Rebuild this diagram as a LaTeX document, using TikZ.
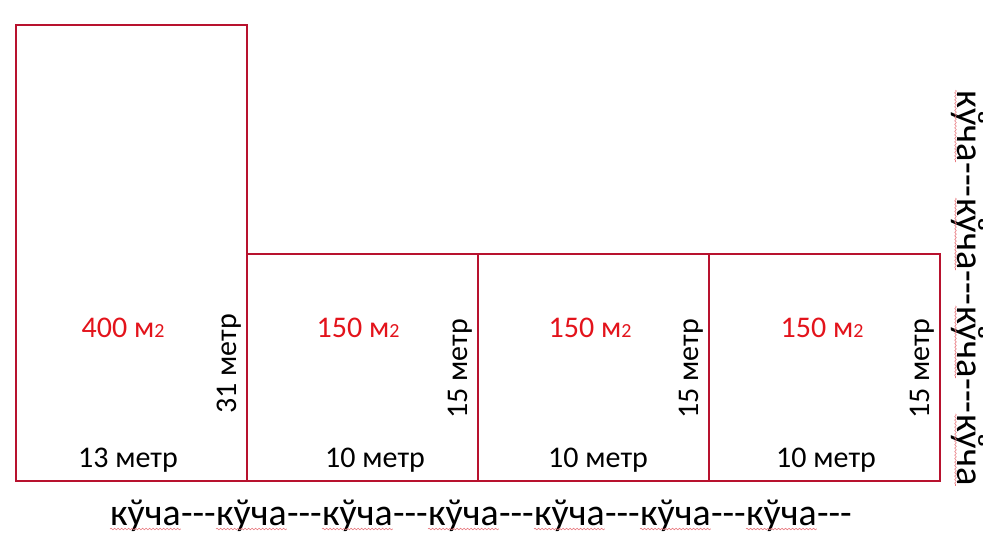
\documentclass[tikz,border=0pt]{standalone}
\usepackage{fontspec}
\setmainfont{Carlito}
\usetikzlibrary{calc,decorations.pathmorphing}
\definecolor{boxred}{HTML}{B8122E}
\definecolor{txtred}{HTML}{E3131B}
\definecolor{spellred}{HTML}{E87A80}
\begin{document}
\begin{tikzpicture}[x=1pt,y=-1pt,
  plot/.style={draw=boxred,line width=1.6pt},
  area/.style={text=txtred,font=\fontsize{30}{32}\selectfont,inner sep=0pt},
  dim/.style={text=black,font=\fontsize{30}{32}\selectfont,inner sep=0pt},
  street/.style={text=black,font=\fontsize{37.8}{40}\selectfont,inner sep=0pt,anchor=base west},
  vstreet/.style={street,font=\fontsize{38.5}{40}\selectfont,rotate=-90},
  wavy/.style={draw=spellred,line width=0.6pt,decorate,decoration={snake,segment length=3.5pt,amplitude=0.8pt}}]
\useasboundingbox (0,0) rectangle (1000,556);
\newcommand{\sqm}{м\raisebox{0pt}{\fontsize{20}{22}\selectfont 2}}
\newcommand{\dsh}{-{}-{}-}
% plots
\draw[plot] (16,25) rectangle (247,481);
\draw[plot] (247,254) rectangle (478,481);
\draw[plot] (478,254) rectangle (709,481);
\draw[plot] (709,254) rectangle (940,481);
% areas
\node[area] (a1) at (123,328) {400 \sqm};
\node[area] (a2) at (358,328) {150 \sqm};
\node[area] (a3) at (590,328) {150 \sqm};
\node[area] (a4) at (822,328) {150 \sqm};
% widths
\node[dim,anchor=base] (w1) at (128,467) {13 метр};
\node[dim,anchor=base] (w2) at (375,467) {10 метр};
\node[dim,anchor=base] (w3) at (598,467) {10 метр};
\node[dim,anchor=base] (w4) at (826,467) {10 метр};
% heights
\node[dim,anchor=base,rotate=90] (h1) at (236,364) {31 метр};
\node[dim,anchor=base,rotate=90] (h2) at (467,369) {15 метр};
\node[dim,anchor=base,rotate=90] (h3) at (698,369) {15 метр};
\node[dim,anchor=base,rotate=90] (h4) at (929,369) {15 метр};
% bottom street
\node[street] (b1) at (110,525) {кўча};
\node[street] (bd1) at (b1.base east) {\dsh};
\node[street] (b2) at (bd1.base east) {кўча};
\node[street] (bd2) at (b2.base east) {\dsh};
\node[street] (b3) at (bd2.base east) {кўча};
\node[street] (bd3) at (b3.base east) {\dsh};
\node[street] (b4) at (bd3.base east) {кўча};
\node[street] (bd4) at (b4.base east) {\dsh};
\node[street] (b5) at (bd4.base east) {кўча};
\node[street] (bd5) at (b5.base east) {\dsh};
\node[street] (b6) at (bd5.base east) {кўча};
\node[street] (bd6) at (b6.base east) {\dsh};
\node[street] (b7) at (bd6.base east) {кўча};
\node[street] (bd7) at (b7.base east) {\dsh};
% right street
\node[vstreet] (r1) at (957,90) {кўча};
\node[vstreet] (rd1) at (r1.base east) {\dsh};
\node[vstreet] (r2) at (rd1.base east) {кўча};
\node[vstreet] (rd2) at (r2.base east) {\dsh};
\node[vstreet] (r3) at (rd2.base east) {кўча};
\node[vstreet] (rd3) at (r3.base east) {\dsh};
\node[vstreet] (r4) at (rd3.base east) {кўча};
% spell-check underlines
\foreach \w in {b1,b2,b3,b4,b5,b6,b7}{
  \draw[wavy] ($(\w.base west)!4pt!-90:(\w.base east)$) -- ($(\w.base east)!4pt!90:(\w.base west)$);
}
\foreach \w in {r1,r2,r3,r4}{
  \draw[wavy] ($(\w.base west)!1.5pt!-90:(\w.base east)$) -- ($(\w.base east)!1.5pt!90:(\w.base west)$);
}
\end{tikzpicture}
\end{document}
